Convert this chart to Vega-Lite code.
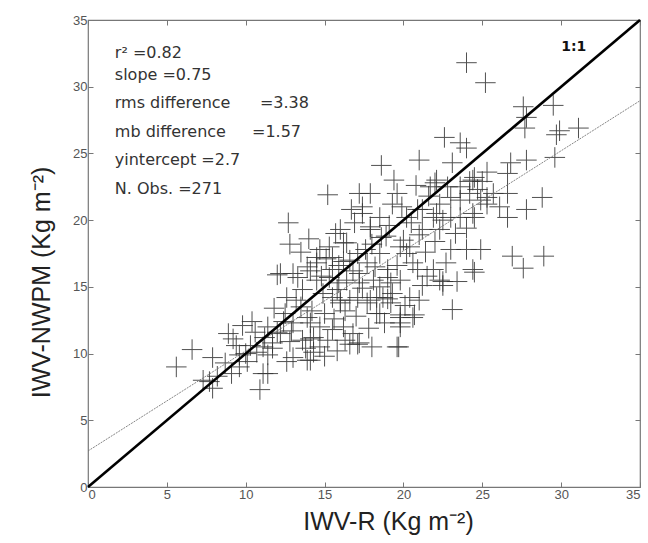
{
  "$schema": "https://vega.github.io/schema/vega-lite/v6.json",
  "width": 552,
  "height": 467,
  "autosize": "none",
  "padding": {"left": 88, "top": 20, "right": 8, "bottom": 56},
  "background": "white",
  "config": {
    "view": {"stroke": "#777", "strokeWidth": 1.2},
    "font": "Liberation Sans",
    "axis": {"grid": false, "domain": false, "tickSize": -5, "tickColor": "#777", "labelColor": "#555", "labelFontSize": 13, "labelFont": "Liberation Sans", "titleFont": "Liberation Sans", "titleFontWeight": "normal", "titleColor": "#222", "titleFontSize": 25}
  },
  "datasets": {
    "pts": [
      {"r":24.0,"n":31.8},{"r":25.2,"n":30.3},{"r":27.6,"n":28.5},{"r":27.8,"n":27.7},{"r":27.7,"n":26.9},{"r":29.5,"n":28.6},{"r":29.9,"n":26.7},{"r":29.7,"n":26.4},{"r":31.1,"n":26.9},{"r":29.6,"n":24.7},
      {"r":22.6,"n":26.2},{"r":23.6,"n":25.8},{"r":24.0,"n":25.4},{"r":18.6,"n":24.1},{"r":23.1,"n":24.3},{"r":24.5,"n":23.2},{"r":25.0,"n":22.9},{"r":26.8,"n":24.3},{"r":27.8,"n":24.5},{"r":26.6,"n":23.5},
      {"r":28.8,"n":21.7},{"r":27.8,"n":20.8},{"r":26.6,"n":20.2},{"r":24.5,"n":20.2},{"r":26.6,"n":22.0},{"r":25.3,"n":21.2},{"r":26.9,"n":17.3},{"r":27.6,"n":16.4},{"r":28.9,"n":17.3},{"r":24.9,"n":17.8},
      {"r":24.0,"n":17.8},{"r":23.0,"n":17.8},{"r":24.5,"n":16.1},{"r":23.4,"n":15.4},{"r":22.5,"n":15.4},{"r":23.1,"n":13.3},{"r":15.2,"n":21.9},{"r":17.2,"n":22.0},{"r":19.6,"n":22.0},{"r":22.0,"n":22.8},
      {"r":12.7,"n":19.8},{"r":17.4,"n":20.5},{"r":19.9,"n":21.0},{"r":20.9,"n":20.8},{"r":21.9,"n":20.2},{"r":22.5,"n":20.0},{"r":16.9,"n":19.8},{"r":17.9,"n":19.3},{"r":15.3,"n":18.0},{"r":14.7,"n":17.8},
      {"r":16.2,"n":18.3},{"r":17.1,"n":17.5},{"r":19.8,"n":18.0},{"r":20.2,"n":17.5},{"r":19.6,"n":16.6},{"r":20.9,"n":16.3},{"r":21.9,"n":16.3},{"r":12.0,"n":15.9},{"r":13.0,"n":16.0},{"r":13.9,"n":16.5},
      {"r":14.5,"n":16.8},{"r":15.5,"n":16.3},{"r":16.4,"n":15.5},{"r":17.2,"n":16.0},{"r":18.1,"n":15.5},{"r":19.0,"n":15.7},{"r":12.6,"n":14.2},{"r":13.6,"n":14.8},{"r":14.9,"n":14.5},{"r":15.8,"n":14.8},
      {"r":16.0,"n":14.0},{"r":17.1,"n":14.2},{"r":17.9,"n":14.0},{"r":18.7,"n":14.2},{"r":19.3,"n":14.5},{"r":18.5,"n":13.0},{"r":19.8,"n":12.7},{"r":20.6,"n":12.7},{"r":19.8,"n":12.0},{"r":19.7,"n":10.5},
      {"r":11.4,"n":12.0},{"r":12.2,"n":11.5},{"r":13.0,"n":12.3},{"r":14.1,"n":12.3},{"r":14.3,"n":11.2},{"r":15.2,"n":11.0},{"r":16.2,"n":12.0},{"r":16.8,"n":11.5},{"r":17.2,"n":10.8},{"r":13.0,"n":9.7},
      {"r":14.1,"n":9.5},{"r":11.4,"n":8.5},{"r":11.1,"n":10.5},{"r":11.7,"n":10.8},{"r":5.6,"n":9.0},{"r":6.6,"n":10.3},{"r":7.9,"n":9.7},{"r":7.3,"n":8.0},{"r":7.9,"n":7.4},{"r":9.1,"n":8.5},
      {"r":9.6,"n":9.0},{"r":10.9,"n":7.3},{"r":11.1,"n":8.5},{"r":10.1,"n":9.4},{"r":9.2,"n":11.1},{"r":9.8,"n":12.1},{"r":10.3,"n":10.6},{"r":10.7,"n":10.1},{"r":11.4,"n":9.9},{"r":11.7,"n":10.4},
      {"r":9.6,"n":9.9},{"r":12.6,"n":9.4},{"r":12.4,"n":12.4},{"r":12.0,"n":11.6},{"r":12.8,"n":10.9},{"r":14.1,"n":11.1},{"r":14.3,"n":10.1},{"r":12.2,"n":16.0},{"r":13.3,"n":15.7},{"r":14.1,"n":16.2},
      {"r":14.5,"n":17.2},{"r":13.9,"n":12.7},{"r":14.7,"n":12.0},{"r":8.2,"n":8.3},{"r":7.7,"n":7.9},{"r":22.1,"n":23.0},{"r":24.4,"n":23.0},{"r":17.9,"n":19.5},{"r":18.6,"n":18.7},{"r":20.0,"n":18.5},
      {"r":20.4,"n":18.0},{"r":21.2,"n":19.3},{"r":22.3,"n":19.3},{"r":23.6,"n":20.2},{"r":24.4,"n":20.5},{"r":24.2,"n":22.0},{"r":24.4,"n":16.3},{"r":21.5,"n":15.8},{"r":22.3,"n":15.5},{"r":15.5,"n":17.2},
      {"r":16.4,"n":18.3},{"r":16.0,"n":19.3},{"r":16.6,"n":17.0},{"r":17.7,"n":16.8},{"r":18.5,"n":17.5},{"r":19.0,"n":16.3},{"r":14.5,"n":15.5},{"r":15.3,"n":15.7},{"r":17.2,"n":15.3},{"r":18.5,"n":15.0},
      {"r":19.2,"n":15.3},{"r":19.8,"n":15.5},{"r":15.5,"n":14.2},{"r":16.6,"n":14.0},{"r":17.7,"n":13.8},{"r":19.2,"n":13.8},{"r":20.4,"n":14.2},{"r":21.2,"n":15.1},{"r":22.5,"n":15.1},{"r":20.7,"n":12.9},
      {"r":19.8,"n":12.9},{"r":18.3,"n":13.0},{"r":19.8,"n":12.3},{"r":19.0,"n":14.1},{"r":19.6,"n":10.5},{"r":17.1,"n":10.7},{"r":16.6,"n":10.7},{"r":15.5,"n":11.8},{"r":14.7,"n":10.5},{"r":13.9,"n":9.5},
      {"r":13.6,"n":11.0},{"r":16.0,"n":13.8},{"r":18.3,"n":14.2},{"r":21.7,"n":22.5},{"r":22.8,"n":22.5},{"r":23.6,"n":22.5},{"r":24.2,"n":22.9},{"r":24.7,"n":22.3},{"r":25.3,"n":21.7},{"r":19.3,"n":21.2},
      {"r":22.3,"n":21.2},{"r":23.0,"n":21.7},{"r":23.6,"n":21.5},{"r":24.9,"n":21.5},{"r":25.7,"n":22.0},{"r":26.1,"n":21.0},{"r":21.2,"n":20.8},{"r":22.1,"n":20.5},{"r":23.0,"n":20.2},{"r":17.9,"n":22.0},
      {"r":17.4,"n":21.0},{"r":18.5,"n":20.2},{"r":20.2,"n":20.2},{"r":13.5,"n":13.5},{"r":14.2,"n":13.2},{"r":15.0,"n":13.0},{"r":15.6,"n":12.6},{"r":16.3,"n":13.2},{"r":17.0,"n":12.8},{"r":14.8,"n":15.8},
      {"r":15.9,"n":16.6},{"r":16.8,"n":16.2},{"r":17.6,"n":17.8},{"r":18.2,"n":16.5},{"r":13.2,"n":14.0},{"r":12.5,"n":13.0},{"r":11.8,"n":13.4},{"r":10.6,"n":11.6},{"r":10.0,"n":10.0},{"r":9.4,"n":10.6},
      {"r":8.7,"n":9.3},{"r":8.9,"n":11.5},{"r":10.4,"n":12.4},{"r":11.2,"n":11.2},{"r":12.9,"n":11.7},{"r":13.8,"n":10.4},{"r":15.0,"n":9.8},{"r":15.8,"n":10.2},{"r":16.3,"n":11.0},{"r":17.8,"n":11.9},
      {"r":18.8,"n":12.3},{"r":18.0,"n":10.5},{"r":20.1,"n":13.6},{"r":21.0,"n":14.0},{"r":20.6,"n":16.8},{"r":21.4,"n":17.6},{"r":22.0,"n":18.4},{"r":21.0,"n":18.9},{"r":19.1,"n":19.6},{"r":18.0,"n":18.2},
      {"r":16.7,"n":20.8},{"r":15.7,"n":19.0},{"r":14.0,"n":18.6},{"r":13.5,"n":17.6},{"r":12.8,"n":18.2},{"r":16.2,"n":16.9},{"r":15.1,"n":17.1},{"r":15.9,"n":15.3},{"r":17.4,"n":14.9},{"r":18.9,"n":18.8},
      {"r":20.5,"n":19.8},{"r":19.4,"n":23.0},{"r":21.6,"n":21.8},{"r":20.8,"n":22.6},{"r":23.3,"n":19.0},{"r":22.7,"n":16.8},{"r":24.0,"n":19.4},{"r":25.3,"n":23.6},{"r":21.0,"n":24.5}
    ],
    "oneone": [{"r":0,"n":0},{"r":35,"n":35}],
    "fit": [{"r":0,"n":2.7},{"r":35,"n":28.95}],
    "notes": [
      {"t":"r² =0.82","r":1.7,"n":32.5},
      {"t":"slope =0.75","r":1.7,"n":30.9},
      {"t":"rms difference","r":1.7,"n":28.8},
      {"t":"=3.38","r":10.9,"n":28.8},
      {"t":"mb difference","r":1.7,"n":26.6},
      {"t":"=1.57","r":10.4,"n":26.6},
      {"t":"yintercept =2.7","r":1.7,"n":24.5},
      {"t":"N. Obs. =271","r":1.7,"n":22.3}
    ],
    "tag": [{"t":"1:1","r":30.0,"n":33.0}]
  },
  "layer": [
    {
      "data": {"name": "pts"},
      "mark": {"type": "point", "shape": "M-1,0L1,0M0,-1L0,1", "filled": false, "stroke": "#333", "strokeWidth": 1, "size": 420, "opacity": 0.85},
      "encoding": {
        "x": {"field": "r", "type": "quantitative", "scale": {"domain": [0, 35], "nice": false}, "axis": {"values": [0,5,10,15,20,25,30,35], "title": "IWV-R (Kg m⁻²)", "labelPadding": 6, "titlePadding": 8, "titleX": 300}},
        "y": {"field": "n", "type": "quantitative", "scale": {"domain": [0, 35], "nice": false}, "axis": {"values": [0,5,10,15,20,25,30,35], "title": "IWV-NWPM (Kg m⁻²)", "labelPadding": 6, "titlePadding": 18, "titleY": 262}}
      }
    },
    {
      "data": {"name": "fit"},
      "mark": {"type": "line", "stroke": "#777", "strokeWidth": 0.9, "strokeDash": [2, 1]},
      "encoding": {"x": {"field": "r", "type": "quantitative", "axis": null}, "y": {"field": "n", "type": "quantitative", "axis": null}}
    },
    {
      "data": {"name": "oneone"},
      "mark": {"type": "line", "stroke": "#000", "strokeWidth": 2.6},
      "encoding": {
        "x": {"field": "r", "type": "quantitative", "axis": {"orient": "top", "values": [0,5,10,15,20,25,30,35], "labels": false, "title": null}},
        "y": {"field": "n", "type": "quantitative", "axis": {"orient": "right", "values": [0,5,10,15,20,25,30,35], "labels": false, "title": null}}
      }
    },
    {
      "data": {"name": "notes"},
      "mark": {"type": "text", "align": "left", "baseline": "middle", "fontSize": 16, "color": "#333", "font": "DejaVu Sans"},
      "encoding": {"x": {"field": "r", "type": "quantitative", "axis": null}, "y": {"field": "n", "type": "quantitative", "axis": null}, "text": {"field": "t"}}
    },
    {
      "data": {"name": "tag"},
      "mark": {"type": "text", "align": "left", "baseline": "middle", "fontSize": 14, "fontWeight": "bold", "color": "#111", "font": "DejaVu Sans"},
      "encoding": {"x": {"field": "r", "type": "quantitative", "axis": null}, "y": {"field": "n", "type": "quantitative", "axis": null}, "text": {"field": "t"}}
    }
  ],
  "resolve": {"axis": {"x": "independent", "y": "independent"}}
}
